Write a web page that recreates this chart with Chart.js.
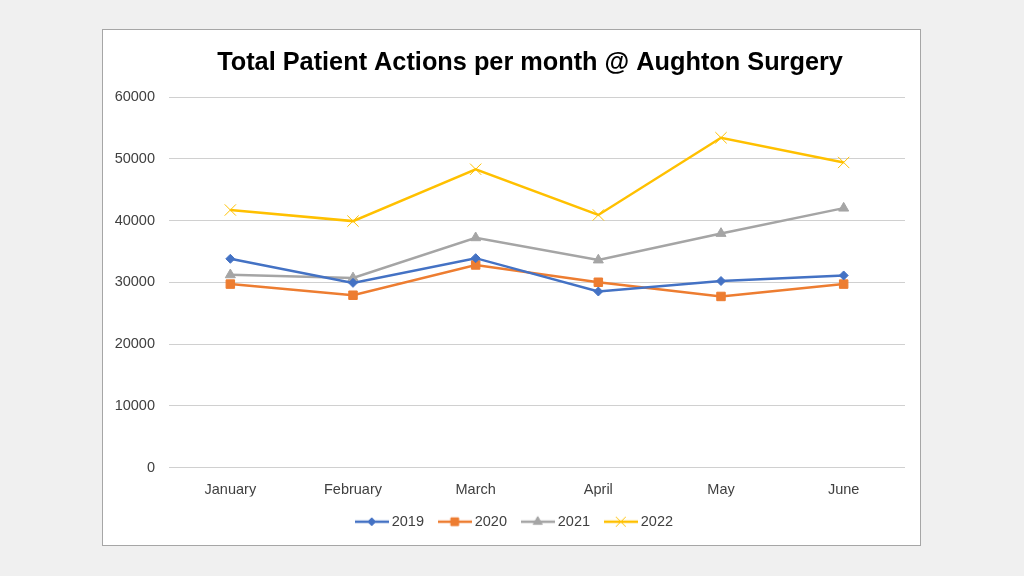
<!DOCTYPE html>
<html>
<head>
<meta charset="utf-8">
<script src="https://cdn.jsdelivr.net/npm/chart.js@4"></script>
<style>
  html, body { margin: 0; padding: 0; background: #f0f0f0; width: 1024px; height: 576px; overflow: hidden; }
  #box { position: absolute; left: 102px; top: 29px; width: 817px; height: 515px; border: 1px solid #a6a6a6; background: #fff; }
  #c { display: block; }
</style>
</head>
<body>
<div id="box"><canvas id="c" width="817" height="515"></canvas></div>
<script>
const chartTitle = "Total Patient Actions per month @ Aughton Surgery";
const months = ["January", "February", "March", "April", "May", "June"];
const seriesNames = ["2019", "2020", "2021", "2022"];
const values2019 = [33800, 29900, 33900, 28500, 30200, 31100];
const values2020 = [29700, 27900, 32800, 30000, 27700, 29700];
const values2021 = [31200, 30700, 37200, 33600, 37900, 42000];
const values2022 = [41700, 39900, 48300, 40900, 53400, 49400];
const yTicks = [0, 10000, 20000, 30000, 40000, 50000, 60000];

const colors = ["#4472C4", "#ED7D31", "#A5A5A5", "#FFC000"];
const styles = ["rectRot", "rect", "triangle", "crossRot"];
const radii = [4.5, 6, 5.8, 8];
const allValues = [values2019, values2020, values2021, values2022];
const FONT = "'Liberation Sans', Arial, sans-serif";

function legendIcon(i) {
  const cv = document.createElement("canvas");
  cv.width = 34; cv.height = 14;
  const g = cv.getContext("2d");
  g.strokeStyle = colors[i]; g.fillStyle = colors[i];
  g.lineWidth = 2.5;
  g.beginPath(); g.moveTo(0, 7); g.lineTo(34, 7); g.stroke();
  g.lineWidth = 1;
  Chart.helpers.drawPoint(g, {pointStyle: styles[i], radius: [4, 5.5, 5.2, 7][i], borderWidth: 1}, 17, 7);
  if (i !== 3) { g.fill(); }
  return cv;
}

const titlePlugin = {
  id: "centerTitle",
  afterLayout(chart) {
    if (chart.legend) { chart.legend.left += 6; chart.legend.right += 6; }
  },
  afterDraw(chart) {
    const ctx = chart.ctx;
    const a = chart.chartArea;
    ctx.save();
    ctx.font = "bold 25.3px " + FONT;
    ctx.fillStyle = "#000";
    ctx.textAlign = "center";
    ctx.textBaseline = "middle";
    ctx.fillText(chartTitle, (a.left + a.right) / 2 - 7, 33);
    ctx.restore();
  }
};

const datasets = seriesNames.map((name, i) => ({
  label: name,
  data: allValues[i],
  borderColor: colors[i],
  backgroundColor: colors[i],
  borderWidth: 2.5,
  pointStyle: styles[i],
  pointRadius: radii[i],
  pointHoverRadius: radii[i],
  pointBorderWidth: 1,
  tension: 0,
  fill: false
}));

new Chart(document.getElementById("c"), {
  type: "line",
  data: { labels: months, datasets },
  plugins: [titlePlugin],
  options: {
    responsive: false,
    animation: false,
    layout: { padding: { top: 67, left: 12, right: 15, bottom: 6 } },
    plugins: {
      title: { display: false },
      tooltip: { enabled: false },
      legend: {
        position: "bottom",
        labels: {
          usePointStyle: true,
          pointStyleWidth: 25.5,
          boxHeight: 14,
          padding: 18,
          color: "#404040",
          font: { family: FONT, size: 14.5 },
          generateLabels(chart) {
            return chart.data.datasets.map((ds, i) => ({
              text: ds.label,
              pointStyle: legendIcon(i),
              fillStyle: colors[i],
              strokeStyle: colors[i],
              lineWidth: 0,
              hidden: false,
              datasetIndex: i,
              fontColor: "#404040"
            }));
          }
        }
      }
    },
    scales: {
      x: {
        offset: true,
        grid: { display: false, drawTicks: false },
        border: { display: false },
        afterFit(scale) { scale.height = 29; },
        ticks: { color: "#404040", padding: 14, font: { family: FONT, size: 14.5 } }
      },
      y: {
        min: 0, max: 60000,
        afterBuildTicks(scale) { scale.ticks = yTicks.map(v => ({ value: v })); },
        afterFit(scale) { scale.width = 54; },
        grid: { color: "#d0d0d0", lineWidth: 1, drawTicks: false },
        border: { display: false },
        ticks: { color: "#404040", padding: 14, font: { family: FONT, size: 14.5 }, callback: v => String(v) }
      }
    }
  }
});
</script>
</body>
</html>
